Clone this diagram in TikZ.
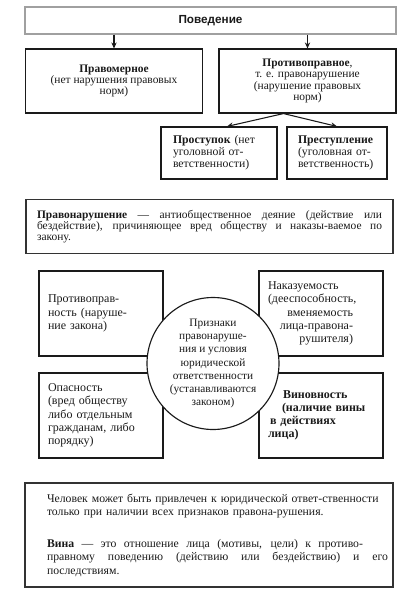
\documentclass[tikz,border=0pt]{standalone}
\usepackage{fontspec}
\setmainfont{Liberation Serif}
\newfontfamily\headfamily{Liberation Sans}
\usepackage{tikz}
\usepackage{xcolor}
\usetikzlibrary{arrows.meta,positioning,calc}
\definecolor{ink}{HTML}{1A1A1A}
\definecolor{rule}{HTML}{A0A0A0}
\definecolor{edge}{HTML}{333333}
\newcommand{\topfont}{\rmfamily\fontsize{8.6pt}{8.5pt}\selectfont}
\newcommand{\midfont}{\rmfamily\fontsize{9pt}{9.9pt}\selectfont}
\newcommand{\ringfont}{\rmfamily\fontsize{8.5pt}{9.8pt}\selectfont}
\newcommand{\subfont}{\rmfamily\fontsize{8.8pt}{9pt}\selectfont}
\newcommand{\notefont}{\rmfamily\fontsize{8.8pt}{10pt}\selectfont}
\newcommand{\fixline}[2]{\noindent\hbox to #1{\spaceskip=0pt\xspaceskip=0pt #2}}
\tikzset{
  frame/.style={draw=ink, line width=0.85pt, inner sep=0pt, text=ink},
  headbox/.style={frame, draw=rule, line width=1.1pt,
                  font=\headfamily\bfseries\fontsize{8.8pt}{10pt}\selectfont},
  topbox/.style={frame, minimum width=133pt, minimum height=48pt,
                 align=center, font=\topfont},
  subbox/.style={frame, minimum height=39pt, align=left, font=\subfont},
  textbox/.style={frame, draw=edge, line width=1.1pt, align=left},
  signbox/.style={frame, minimum width=93pt, minimum height=63.75pt,
                  align=left, text width=79.5pt, font=\midfont},
  arrow/.style={-{Stealth[length=4.5pt,width=4pt]}, line width=0.8pt, draw=ink}
}

\begin{document}
\begin{tikzpicture}[x=0.75pt,y=-0.75pt]
  \useasboundingbox (0,0) rectangle (413,600);
  % kinds of behaviour
  \node[headbox, minimum width=278.25pt, minimum height=20.25pt] (beh) at (210.5,20.5) {Поведение};
  \node[topbox] (lawful) at (114,81)
    {{\bfseries Правомерное}\\(нет нарушения правовых\\норм)};
  \node[topbox, minimum width=132.75pt] (unlawful) at (307.5,81)
    {{\bfseries Противоправное},\\т. е. правонарушение\\(нарушение правовых\\норм)};
  \node[subbox, minimum width=87pt, text width=69pt] (misdeed) at (219,153)
    {{\bfseries Проступок} (нет\\уголовной от-\\ветственности)};
  \node[subbox, minimum width=75pt, text width=58.5pt] (crime) at (337,153)
    {\mbox{\bfseries Преступление}\\(уголовная от-\\ветственность)};
  \draw[arrow] (beh.south -| lawful.north) -- (lawful.north);
  \draw[arrow] (beh.south -| unlawful.north) -- (unlawful.north);
  \coordinate (fork) at ([xshift=-18pt]unlawful.south);
  \draw[arrow] (fork) -- ($(misdeed.north)+(8,0)$);
  \draw[arrow] (fork) -- (crime.north);

  % definition
  \node[textbox, minimum width=275.25pt, minimum height=40.5pt, text width=258.75pt,
        font=\topfont] (defn) at (209.5,226.5)
    {\fixline{258.75pt}{{\bfseries Правонарушение} — антиобщественное деяние (действие или}\\
     \fixline{258.75pt}{бездействие), причиняющее вред обществу и наказы-ваемое по}\\
     закону.};

  % signs of an offence
  \node[signbox] (illeg) at (101,313.5) {Противоправ-\\ность (наруше-\\ние закона)};
  \node[signbox] (punish) at (321,313.5)
    {Наказуемость\\(дееспособность,\\\fixline{63.75pt}{\hfill вменяемость}\\
     \fixline{63.75pt}{\hfill лица-правона-}\\\fixline{63.75pt}{\hfill рушителя)}};
  \node[signbox] (danger) at (101,415.5)
    {Опасность\\(вред обществу\\либо отдельным\\гражданам, либо\\порядку)};
  \node[signbox, font=\midfont\bfseries] (guilt) at (321,415.5)
    {\hspace*{11.25pt}Виновность\\\hspace*{10.5pt}(наличие вины\\\hspace*{1.5pt}в действиях\\лица)};
  \node[frame, circle, fill=white, minimum size=99pt, align=center, font=\ringfont] (signs) at (213,363.5)
    {Признаки\\правонаруше-\\ния и условия\\юридической\\ответственности\\(устанавливаются\\законом)};

  % note
  \node[textbox, minimum width=276pt, minimum height=78pt, text width=243pt,
        font=\notefont] (note) at (209,535)
    {\mbox{Человек может быть привлечен к юридической ответ-ственности}\\
     \mbox{только при наличии всех признаков правона-рушения.}\\[14pt]
     \fixline{237pt}{{\bfseries Вина} — это отношение лица (мотивы, цели) к противо-}\\
     \fixline{255.75pt}{правному поведению (действию или бездействию) и его}\\
     последствиям.};
\end{tikzpicture}
\end{document}
